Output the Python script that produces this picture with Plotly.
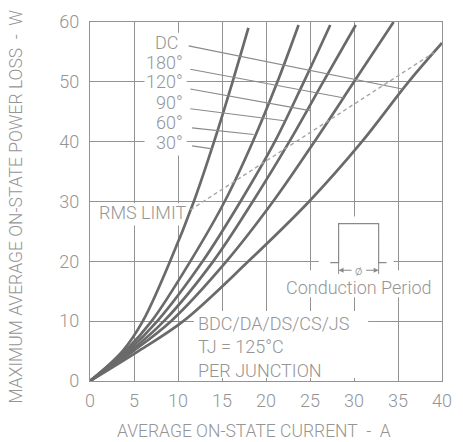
import plotly.graph_objects as go

# Maximum average on-state power loss (W) versus average on-state current (A)
# for each conduction angle.
current_30 = [0, 3.7, 6.0, 9.1, 11.8, 14.1, 16.2, 18.0]
loss_30 = [0, 5, 10, 20, 30, 40, 50, 59]

current_60 = [0, 4.0, 7.0, 11.4, 15.3, 18.5, 21.3, 23.7]
loss_60 = [0, 5, 10, 20, 30, 40, 50, 59.5]

current_90 = [0, 4.3, 7.65, 12.8, 17.1, 21.0, 24.3, 27.3]
loss_90 = [0, 5, 10, 20, 30, 40, 50, 59.5]

current_120 = [0, 4.6, 8.4, 14.0, 18.5, 22.65, 26.5, 30.2]
loss_120 = [0, 5, 10, 20, 30, 40, 50, 59.5]

current_180 = [0, 4.9, 9.2, 15.5, 20.8, 25.5, 30.0, 34.5]
loss_180 = [0, 5, 10, 20, 30, 40, 50, 60]

current_dc = [0, 5.5, 10.6, 18.0, 24.9, 30.9, 36.2, 40.0]
loss_dc = [0, 5, 10, 20, 30, 40, 50, 56.5]

# RMS current limit
rms_current = [11.4, 39.1]
rms_loss = [28.6, 54.9]

# Curve labels and their leader lines (label end -> point on curve)
label_text = ["DC", "180°", "120°", "90°", "60°", "30°"]
label_loss = [56.5, 53.2, 50.0, 46.5, 43.2, 39.8]
leader_x0 = [11.2, 11.4, 11.4, 11.4, 11.6, 11.6]
leader_y0 = [56.0, 52.1, 48.8, 45.5, 42.3, 39.3]
leader_x1 = [35.5, 28.9, 25.0, 22.1, 18.6, 13.9]
leader_y1 = [48.8, 47.3, 45.2, 43.5, 41.2, 38.8]

x_ticks = [0, 5, 10, 15, 20, 25, 30, 35, 40]
y_ticks = [0, 10, 20, 30, 40, 50, 60]

GRID = "#939393"
TEXT = "#959595"
CURVE = "#6a6a6a"
LEAD = "#8a8a8a"
FONT = "Roboto"

fig = go.Figure()

# white patches that keep the grid clear behind the notes
masks = [
    (6.2, 37.7, 11.0, 58.2),    # curve labels
    (0.55, 26.0, 11.0, 29.7),   # RMS LIMIT
    (26.0, 18.5, 34.5, 27.5),   # conduction waveform
    (21.55, 14.0, 39.8, 18.5),  # Conduction Period
    (11.8, 0.5, 31.6, 11.7),    # device note
]
for x0, y0, x1, y1 in masks:
    fig.add_shape(type="rect", xref="x", yref="y", x0=x0, y0=y0, x1=x1, y1=y1,
                  fillcolor="white", line_width=0, layer="between")

series = [
    (current_30, loss_30), (current_60, loss_60), (current_90, loss_90),
    (current_120, loss_120), (current_180, loss_180), (current_dc, loss_dc),
]
for (xs, ys), name in zip(series, ["30°", "60°", "90°", "120°", "180°", "DC"]):
    fig.add_trace(go.Scatter(x=xs, y=ys, mode="lines", name=name,
                             line=dict(color=CURVE, width=2.7, shape="spline", smoothing=1.0),
                             hoverinfo="skip", showlegend=False))

fig.add_trace(go.Scatter(x=rms_current, y=rms_loss, mode="lines",
                         line=dict(color="#a6a6a6", width=1.4, dash="4px,3px"),
                         hoverinfo="skip", showlegend=False))

# leader lines
for x0, y0, x1, y1 in zip(leader_x0, leader_y0, leader_x1, leader_y1):
    fig.add_shape(type="line", xref="x", yref="y", x0=x0, y0=y0, x1=x1, y1=y1,
                  line=dict(color=LEAD, width=1.2))

annotations = []
for txt, yv in zip(label_text, label_loss):
    annotations.append(dict(x=10.2 if txt == "DC" else 10.8, y=yv, xref="x", yref="y",
                            text=txt, showarrow=False, xanchor="right", yanchor="middle",
                            font=dict(family=FONT, size=18, color=TEXT, weight=300)))

annotations.append(dict(x=0.8, y=28.1, xref="x", yref="y", text="RMS LIMIT",
                        showarrow=False, xanchor="left", yanchor="middle",
                        font=dict(family=FONT, size=18, color=TEXT, weight=300)))

# device / junction note
annotations.append(dict(x=12.1, y=11.7, xref="x", yref="y",
                        text="BDC/DA/DS/CS/JS<br>TJ = 125°C<br>PER JUNCTION",
                        showarrow=False, xanchor="left", yanchor="top", align="left",
                        font=dict(family=FONT, size=18, color=TEXT, weight=300)))

annotations.append(dict(x=30.55, y=15.7, xref="x", yref="y", text="Conduction Period",
                        showarrow=False, xanchor="center", yanchor="middle",
                        font=dict(family=FONT, size=18, color=TEXT, weight=300)))

# conduction waveform sketch
fig.add_shape(type="path", xref="x", yref="y",
              path="M 27.3,19.8 L 28.25,19.8 L 28.25,26.3 L 32.8,26.3 L 32.8,19.8 L 33.7,19.8",
              line=dict(color=LEAD, width=1.2))
for xv in (28.25, 32.8):
    fig.add_shape(type="line", xref="x", yref="y", x0=xv, y0=19.8, x1=xv, y1=17.9,
                  line=dict(color=LEAD, width=1.0))
for head, tail in ((28.25, 29.9), (32.8, 31.2)):
    annotations.append(dict(x=head, y=18.5, ax=tail, ay=18.5, xref="x", yref="y",
                            axref="x", ayref="y", text="", showarrow=True,
                            arrowhead=2, arrowsize=0.9, arrowwidth=1.1, arrowcolor=LEAD))
annotations.append(dict(x=30.55, y=18.5, xref="x", yref="y", text="ø", showarrow=False,
                        bgcolor="white", borderpad=0,
                        font=dict(family=FONT, size=13, color=TEXT, weight=300)))

# axis titles
annotations.append(dict(x=0.5, y=0, xref="paper", yref="paper", xshift=-12, yshift=-50,
                        text="AVERAGE ON-STATE CURRENT\u00a0 -\u00a0 A", showarrow=False,
                        xanchor="center", yanchor="middle",
                        font=dict(family=FONT, size=17.5, color=TEXT, weight=300)))
annotations.append(dict(x=0, y=0.5, xref="paper", yref="paper", xshift=-75, yshift=-5,
                        text="MAXIMUM AVERAGE ON-STATE POWER LOSS\u00a0 -\u00a0 W", showarrow=False,
                        textangle=-90, xanchor="center", yanchor="middle",
                        font=dict(family=FONT, size=17.5, color=TEXT, weight=300)))

axis_common = dict(showgrid=True, gridcolor=GRID, gridwidth=1.3, zeroline=False,
                   showline=True, mirror=True, linecolor=GRID, linewidth=1.3, ticks="",
                   tickfont=dict(family=FONT, size=18, color=TEXT, weight=300),
                   fixedrange=True)

fig.update_layout(
    width=463, height=442,
    margin=dict(l=90, r=11, t=21, b=61),
    paper_bgcolor="white", plot_bgcolor="white",
    xaxis=dict(range=[0, 40], tickvals=x_ticks, ticklabelstandoff=3, **axis_common),
    yaxis=dict(range=[0, 60], tickvals=y_ticks, ticklabelstandoff=6, **axis_common),
    annotations=annotations,
    showlegend=False,
)

fig.write_html("out.html")
